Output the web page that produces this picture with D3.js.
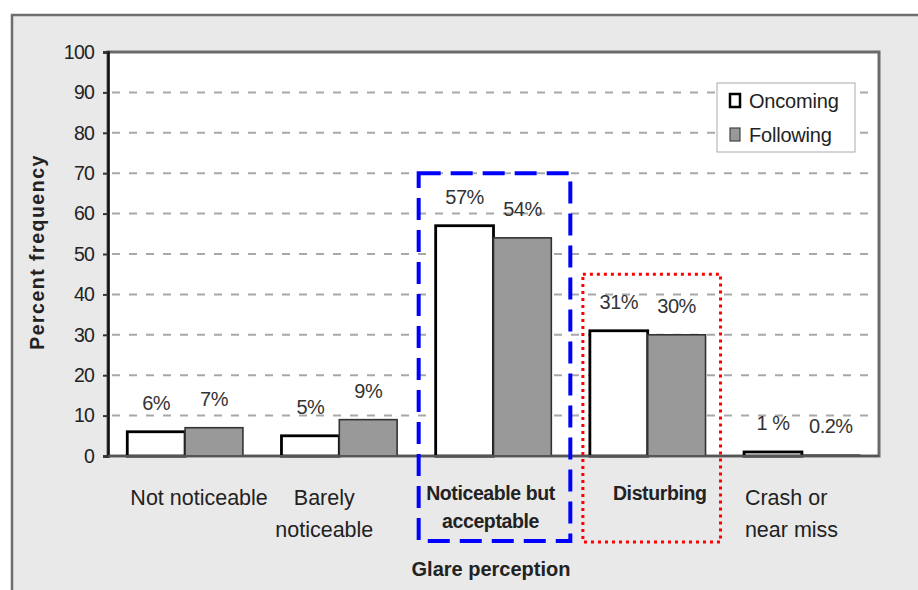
<!DOCTYPE html>
<html><head><meta charset="utf-8">
<script src="https://cdn.jsdelivr.net/npm/d3@7"></script>
<style>
html,body{margin:0;padding:0;background:#fff;}
svg{display:block;font-family:"Liberation Sans",Arial,sans-serif;}
</style></head>
<body>
<svg id="chart" width="918" height="590"></svg>
<script>
const categories = ["Not noticeable", "Barely noticeable", "Noticeable but acceptable", "Disturbing", "Crash or near miss"];
const categoryLines = [["Not noticeable"], ["Barely", "noticeable"], ["Noticeable but", "acceptable"], ["Disturbing"], ["Crash or", "near miss"]];
const seriesNames = ["Oncoming", "Following"];
const oncoming = [6, 5, 57, 31, 1];
const following = [7, 9, 54, 30, 0.2];
const oncomingLabels = ["6%", "5%", "57%", "31%", "1 %"];
const followingLabels = ["7%", "9%", "54%", "30%", "0.2%"];
const yTicks = [0, 10, 20, 30, 40, 50, 60, 70, 80, 90, 100];

const svg = d3.select("#chart");
const W = 918, H = 590;
const m = {left: 108, right: 879, top: 52, bottom: 456};

// outer frame
svg.append("rect").attr("x", 12).attr("y", 15).attr("width", W).attr("height", H)
  .attr("fill", "#e9e9e9").attr("stroke", "#6e6e6e").attr("stroke-width", 2.5);

const x = d3.scaleBand().domain(categories).range([m.left, m.right]).paddingInner(0.25).paddingOuter(0.125);
const xs = d3.scaleBand().domain(seriesNames).range([0, x.bandwidth()]);
const y = d3.scaleLinear().domain([0, 100]).range([m.bottom, m.top]);

// plot area
svg.append("rect").attr("x", m.left).attr("y", m.top).attr("width", m.right - m.left).attr("height", m.bottom - m.top)
  .attr("fill", "#fff").attr("stroke", "#6a6a6a").attr("stroke-width", 3);

// gridlines
svg.append("g").selectAll("line").data(yTicks.filter(t => t > 0 && t < 100)).join("line")
  .attr("x1", m.left + 4).attr("x2", m.right - 2)
  .attr("y1", d => y(d)).attr("y2", d => y(d))
  .attr("stroke", "#a8a8a8").attr("stroke-width", 2).attr("stroke-dasharray", "8,9");

// y axis
const yAxis = d3.axisLeft(y).tickValues(yTicks).tickSize(5).tickPadding(9);
const ya = svg.append("g").attr("transform", `translate(${m.left},0)`).call(yAxis);
ya.select(".domain").attr("stroke", "#111").attr("stroke-width", 2.5);
ya.selectAll(".tick line").attr("stroke", "#333").attr("stroke-width", 2);
ya.selectAll(".tick text").attr("font-size", 19.5).attr("fill", "#222")
  .attr("font-family", "'Liberation Sans',Arial,sans-serif").attr("letter-spacing", "-0.8");

// bars
const groups = categories.map((c, i) => ({c, vals: [
  {s: "Oncoming", v: oncoming[i], label: oncomingLabels[i]},
  {s: "Following", v: following[i], label: followingLabels[i]}
]}));

const g = svg.append("g").selectAll("g").data(groups).join("g")
  .attr("transform", d => `translate(${x(d.c)},0)`);

g.selectAll("rect").data(d => d.vals).join("rect")
  .attr("x", d => xs(d.s)).attr("width", xs.bandwidth())
  .attr("y", d => y(d.v)).attr("height", d => y(0) - y(d.v))
  .attr("fill", d => d.s === "Oncoming" ? "#fff" : "#999")
  .attr("stroke", d => d.s === "Oncoming" ? "#000" : "#333")
  .attr("stroke-width", d => d.s === "Oncoming" ? 2.8 : 1.6);

g.selectAll("text").data(d => d.vals).join("text")
  .attr("x", d => xs(d.s) + xs.bandwidth() / 2)
  .attr("y", d => y(d.v) - 22)
  .attr("text-anchor", "middle").attr("font-size", 20).attr("fill", "#333")
  .attr("letter-spacing", "-0.5")
  .text(d => d.label);

// baseline
svg.append("line").attr("x1", m.left).attr("x2", m.right).attr("y1", y(0)).attr("y2", y(0))
  .attr("stroke", "#555").attr("stroke-width", 2);

// category labels
const catDx = [14, -15, -3, 12, -57];
const catAnchor = ["middle", "middle", "middle", "middle", "start"];
const catBold = [false, false, true, true, false];
categories.forEach((c, i) => {
  const cx = x(c) + x.bandwidth() / 2 + catDx[i];
  const t = svg.append("text")
    .attr("x", cx).attr("text-anchor", catAnchor[i])
    .attr("font-size", catBold[i] ? 19.5 : 21.5).attr("fill", "#222")
    .attr("font-weight", catBold[i] ? "bold" : "normal")
    .attr("letter-spacing", catBold[i] ? "-0.4" : "0");
  const lines = categoryLines[i];
  lines.forEach((ln, j) => {
    t.append("tspan").attr("x", cx).attr("y", (catBold[i] ? 500 : 505) + j * (catBold[i] ? 28 : 32)).text(ln);
  });
});

// axis titles
svg.append("text").attr("x", 491).attr("y", 576).attr("text-anchor", "middle")
  .attr("font-size", 20).attr("font-weight", "bold").attr("fill", "#222").text("Glare perception");
svg.append("text").attr("transform", "translate(44,252) rotate(-90)").attr("text-anchor", "middle")
  .attr("font-size", 19.5).attr("font-weight", "bold").attr("fill", "#222")
  .attr("letter-spacing", "1.5").text("Percent frequency");

// highlight boxes
const bx = x(categories[2]), rx = x(categories[3]);
svg.append("rect").attr("x", bx - 17).attr("y", y(70)).attr("width", x.bandwidth() + 36).attr("height", 541 - y(70))
  .attr("fill", "none").attr("stroke", "#0000ff").attr("stroke-width", 4).attr("stroke-dasharray", "22,10");
svg.append("rect").attr("x", rx - 7).attr("y", y(45)).attr("width", x.bandwidth() + 22).attr("height", 542 - y(45))
  .attr("fill", "none").attr("stroke", "#ff0000").attr("stroke-width", 3).attr("stroke-dasharray", "3,4");

// legend
const lg = svg.append("g").attr("transform", "translate(717,83)");
lg.append("rect").attr("width", 138).attr("height", 69).attr("fill", "#fff").attr("stroke", "#aaa").attr("stroke-width", 1);
seriesNames.forEach((s, i) => {
  const row = lg.append("g").attr("transform", `translate(13,${11 + i * 34})`);
  row.append("rect").attr("width", 10).attr("height", 13)
    .attr("fill", i === 0 ? "#fff" : "#999")
    .attr("stroke", i === 0 ? "#000" : "#444").attr("stroke-width", i === 0 ? 2.5 : 1.2);
  row.append("text").attr("x", 19).attr("y", 14).attr("font-size", 20).attr("fill", "#222")
    .attr("letter-spacing", "-0.2").text(s);
});
</script>
</body></html>
